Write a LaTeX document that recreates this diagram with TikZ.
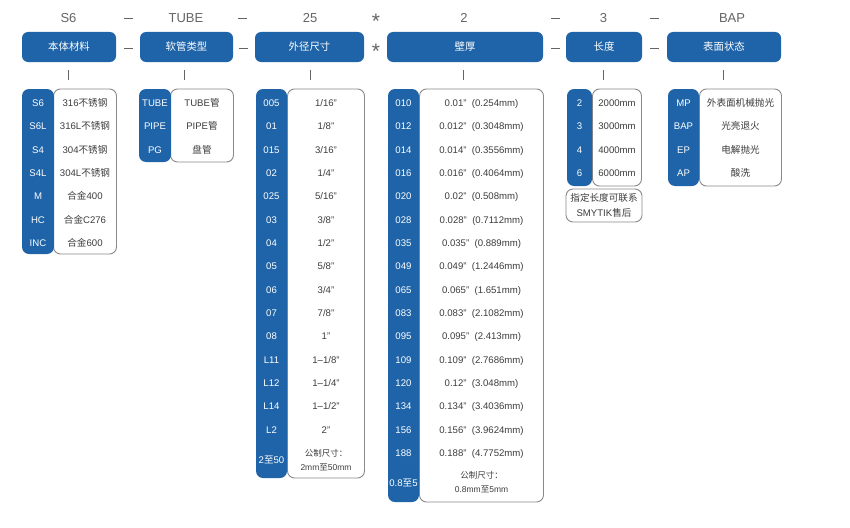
\documentclass[tikz,border=0pt]{standalone}
\usepackage{fontspec}
\setmainfont{Liberation Sans}
\newfontfamily\cjk{Noto Sans CJK SC}
\newcommand\zh[1]{{\cjk #1}}
\definecolor{mblue}{RGB}{31,100,168}
\definecolor{tgray}{RGB}{100,100,100}
\definecolor{dgray}{RGB}{60,60,60}
\definecolor{bgray}{RGB}{140,136,136}
\begin{document}
\begin{tikzpicture}[x=1pt,y=-1pt,
  hdrbox/.style={rectangle, rounded corners=6pt, fill=mblue, text=white, inner sep=0pt,
    minimum height=30pt, font=\cjk\fontsize{10.4}{12}\selectfont},
  toplab/.style={text=tgray, inner sep=0pt, anchor=base, font=\fontsize{13}{15}\selectfont},
  star/.style={text=tgray, inner sep=0pt, anchor=base, font=\fontsize{21}{21}\selectfont},
  bluecol/.style={rectangle, rounded corners=7pt, fill=mblue, inner sep=0pt},
  whitebox/.style={rectangle, rounded corners=7pt, draw=bgray, line width=0.9pt, fill=white, inner sep=0pt},
  ctext/.style={inner sep=0pt, text height=6.8pt, text depth=0pt, font=\fontsize{9.6}{11}\selectfont},
  btext/.style={ctext, text=white},
  wtext/.style={ctext, text=dgray},
  sep/.style={draw=tgray, line width=0.8pt},
  tick/.style={draw=tgray, line width=0.8pt}]
\useasboundingbox (0,0) rectangle (850,527);

% top labels
\node[toplab] (t1) at (68.5,23) {S6};
\node[toplab] (t2) at (186,23) {TUBE};
\node[toplab] (t3) at (310,23) {25};
\node[toplab] (t4) at (464,23) {2};
\node[toplab] (t5) at (603.5,23) {3};
\node[toplab] (t6) at (732,23) {BAP};
\draw[sep] (124,18.5) -- (133,18.5);
\draw[sep] (238,18.5) -- (247,18.5);
\draw[sep] (551,18.5) -- (560,18.5);
\draw[sep] (650,18.5) -- (659,18.5);
\node[star] (s1) at (376,29) {*};

% header boxes
\node[hdrbox, minimum width=94pt] (h1) at (69,47) {本体材料};
\node[hdrbox, minimum width=93pt] (h2) at (186.5,47) {软管类型};
\node[hdrbox, minimum width=109pt] (h3) at (309.5,47) {外径尺寸};
\node[hdrbox, minimum width=156pt] (h4) at (465,47) {壁厚};
\node[hdrbox, minimum width=76pt] (h5) at (604,47) {长度};
\node[hdrbox, minimum width=114pt] (h6) at (724,47) {表面状态};
\draw[sep] (124,48) -- (133,48);
\draw[sep] (239,48) -- (248,48);
\draw[sep] (551,48) -- (560,48);
\draw[sep] (650,48) -- (659,48);
\node[star] (s2) at (376,59) {*};

% ticks
\foreach \x in {68,184,310,463,603,723} \draw[tick] (\x,70) -- (\x,80);

% group 1
\node[whitebox, minimum width=63pt, minimum height=165pt] (w1) at (85,171.5) {};
\node[bluecol, minimum width=32pt, minimum height=165pt] (b1) at (38,171.5) {};
\foreach \a/\b [count=\i from 0] in {S6/{316\zh{不锈钢}},S6L/{316L\zh{不锈钢}},S4/{304\zh{不锈钢}},S4L/{304L\zh{不锈钢}},M/{\zh{合金}400},HC/{\zh{合金}C276},INC/{\zh{合金}600}}{
  \node[btext] (g1a\i) at (38,{103+23.35*\i}) {\a};
  \node[wtext] (g1b\i) at (85,{103+23.35*\i}) {\b};
}

% group 2
\node[whitebox, minimum width=63pt, minimum height=73pt] (w2) at (202,125.5) {};
\node[bluecol, minimum width=32pt, minimum height=73pt] (b2) at (155,125.5) {};
\foreach \a/\b [count=\i from 0] in {TUBE/{TUBE\zh{管}},PIPE/{PIPE\zh{管}},PG/{\zh{盘管}}}{
  \node[btext] (g2a\i) at (155,{103+23.35*\i}) {\a};
  \node[wtext] (g2b\i) at (202,{103+23.35*\i}) {\b};
}

% group 3
\node[whitebox, minimum width=77pt, minimum height=389pt] (w3) at (326,283.5) {};
\node[bluecol, minimum width=31pt, minimum height=389pt] (b3) at (271.5,283.5) {};
\foreach \a/\b [count=\i from 0] in {005/{1/16”},01/{1/8”},015/{3/16”},02/{1/4”},025/{5/16”},03/{3/8”},04/{1/2”},05/{5/8”},06/{3/4”},07/{7/8”},08/{1”},L11/{1–1/8”},L12/{1–1/4”},L14/{1–1/2”},L2/{2”}}{
  \node[btext] (g3a\i) at (271.5,{103+23.35*\i}) {\a};
  \node[wtext] (g3b\i) at (326,{103+23.35*\i}) {\b};
}
\node[btext] (g3x) at (271.5,460) {2\zh{至}50};
\node[wtext, font=\fontsize{8.5}{10}\selectfont] (g3y) at (326,453) {\zh{公制尺寸：}};
\node[wtext, font=\fontsize{8.5}{10}\selectfont] (g3z) at (326,467) {2mm\zh{至}50mm};

% group 4
\node[whitebox, minimum width=124pt, minimum height=413pt] (w4) at (481.5,295.5) {};
\node[bluecol, minimum width=31pt, minimum height=413pt] (b4) at (403.5,295.5) {};
\foreach \a/\b [count=\i from 0] in {010/{0.01”\ \ (0.254mm)},012/{0.012”\ \ (0.3048mm)},014/{0.014”\ \ (0.3556mm)},016/{0.016”\ \ (0.4064mm)},020/{0.02”\ \ (0.508mm)},028/{0.028”\ \ (0.7112mm)},035/{0.035”\ \ (0.889mm)},049/{0.049”\ \ (1.2446mm)},065/{0.065”\ \ (1.651mm)},083/{0.083”\ \ (2.1082mm)},095/{0.095”\ \ (2.413mm)},109/{0.109”\ \ (2.7686mm)},120/{0.12”\ \ (3.048mm)},134/{0.134”\ \ (3.4036mm)},156/{0.156”\ \ (3.9624mm)},188/{0.188”\ \ (4.7752mm)}}{
  \node[btext] (g4a\i) at (403.5,{103+23.35*\i}) {\a};
  \node[wtext] (g4b\i) at (481.5,{103+23.35*\i}) {\b};
}
\node[btext] (g4x) at (403.5,483) {0.8\zh{至}5};
\node[wtext, font=\fontsize{8.5}{10}\selectfont] (g4y) at (481.5,475.5) {\zh{公制尺寸：}};
\node[wtext, font=\fontsize{8.5}{10}\selectfont] (g4z) at (481.5,489) {0.8mm\zh{至}5mm};

% group 5
\node[whitebox, minimum width=49pt, minimum height=97pt] (w5) at (617,137.5) {};
\node[bluecol, minimum width=25pt, minimum height=97pt] (b5) at (579.5,137.5) {};
\foreach \a/\b [count=\i from 0] in {2/2000mm,3/3000mm,4/4000mm,6/6000mm}{
  \node[btext] (g5a\i) at (579.5,{103+23.35*\i}) {\a};
  \node[wtext] (g5b\i) at (617,{103+23.35*\i}) {\b};
}
\node[whitebox, minimum width=76pt, minimum height=33pt] (n5) at (604,205.5) {};
\node[wtext] (n5a) at (604,198.5) {\zh{指定长度可联系}};
\node[wtext] (n5b) at (604,213) {SMYTIK\zh{售后}};

% group 6
\node[whitebox, minimum width=82pt, minimum height=97pt] (w6) at (740.5,137.5) {};
\node[bluecol, minimum width=31pt, minimum height=97pt] (b6) at (683.5,137.5) {};
\foreach \a/\b [count=\i from 0] in {MP/{\zh{外表面机械抛光}},BAP/{\zh{光亮退火}},EP/{\zh{电解抛光}},AP/{\zh{酸洗}}}{
  \node[btext] (g6a\i) at (683.5,{103+23.35*\i}) {\a};
  \node[wtext] (g6b\i) at (740.5,{103+23.35*\i}) {\b};
}
\end{tikzpicture}
\end{document}
